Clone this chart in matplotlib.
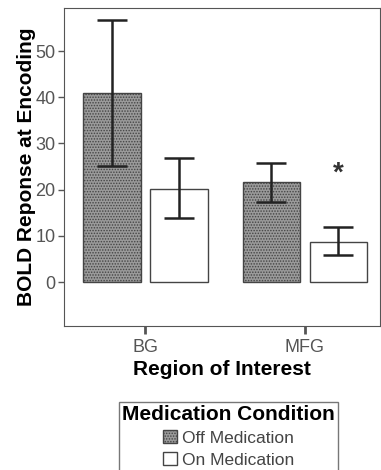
import numpy as np
import matplotlib.pyplot as plt
from matplotlib.patches import Patch

plt.rcParams['font.family'] = ['Liberation Sans', 'DejaVu Sans']
plt.rcParams['hatch.linewidth'] = 0.7
plt.rcParams['hatch.color'] = '#3a3a3a'

regions = ['BG', 'MFG']
off_mean = [41.0, 21.6]
off_lo = [25.2, 17.4]
off_hi = [56.7, 25.8]
on_mean = [20.2, 8.6]
on_lo = [13.8, 5.8]
on_hi = [26.8, 12.0]
star_region = 1
star_y = 23.5

grey = '#555555'
x = np.arange(len(regions))
w = 0.36
d = 0.21

fig = plt.figure(figsize=(3.81, 4.70), dpi=100)
ax = fig.add_axes([0.168, 0.306, 0.829, 0.677])

off_err = [np.array(off_mean) - np.array(off_lo), np.array(off_hi) - np.array(off_mean)]
on_err = [np.array(on_mean) - np.array(on_lo), np.array(on_hi) - np.array(on_mean)]

ax.bar(x - d, off_mean, w, facecolor='#9a9a9a', edgecolor='#444444', hatch='......', linewidth=1)
ax.bar(x + d, on_mean, w, facecolor='white', edgecolor='#444444', linewidth=1)
ax.errorbar(x - d, off_mean, yerr=off_err, fmt='none', ecolor='#222222', elinewidth=1.8, capsize=10.5, capthick=1.8)
ax.errorbar(x + d, on_mean, yerr=on_err, fmt='none', ecolor='#222222', elinewidth=1.8, capsize=10.5, capthick=1.8)
ax.text(x[star_region] + d, star_y, '*', ha='center', va='center', fontsize=20, fontweight='bold', color='#333333')

ax.set_xlim(-0.51, 1.47)
ax.set_ylim(-9.5, 59.3)
ax.set_yticks([0, 10, 20, 30, 40, 50])
ax.set_xticks(x)
ax.set_xticklabels(regions)
ax.tick_params(axis='both', colors=grey, labelsize=13, labelcolor=grey)
ax.tick_params(axis='x', length=6, width=2, pad=3)
ax.tick_params(axis='y', length=4, width=1, pad=2)
for s in ax.spines.values():
    s.set_color(grey)
ax.set_ylabel('BOLD Reponse at Encoding', fontsize=15, fontweight='bold', labelpad=0)
ax.set_xlabel('Region of Interest', fontsize=15, fontweight='bold', labelpad=3)

handles = [Patch(facecolor='#9a9a9a', edgecolor='#444444', hatch='......', label='Off Medication'),
           Patch(facecolor='white', edgecolor='#444444', label='On Medication')]
leg = fig.legend(handles=handles, title='Medication Condition', loc='upper left',
                 bbox_to_anchor=(0.289, 0.164), fontsize=12.5, frameon=True, fancybox=False,
                 handlelength=0.8, handleheight=0.8, handletextpad=0.3, labelspacing=0.35,
                 borderpad=0.2, edgecolor=grey)
leg.get_title().set_fontweight('bold')
leg.get_title().set_fontsize(15)
for t in leg.get_texts():
    t.set_color('#444444')

fig.savefig('out.png', dpi=100)
